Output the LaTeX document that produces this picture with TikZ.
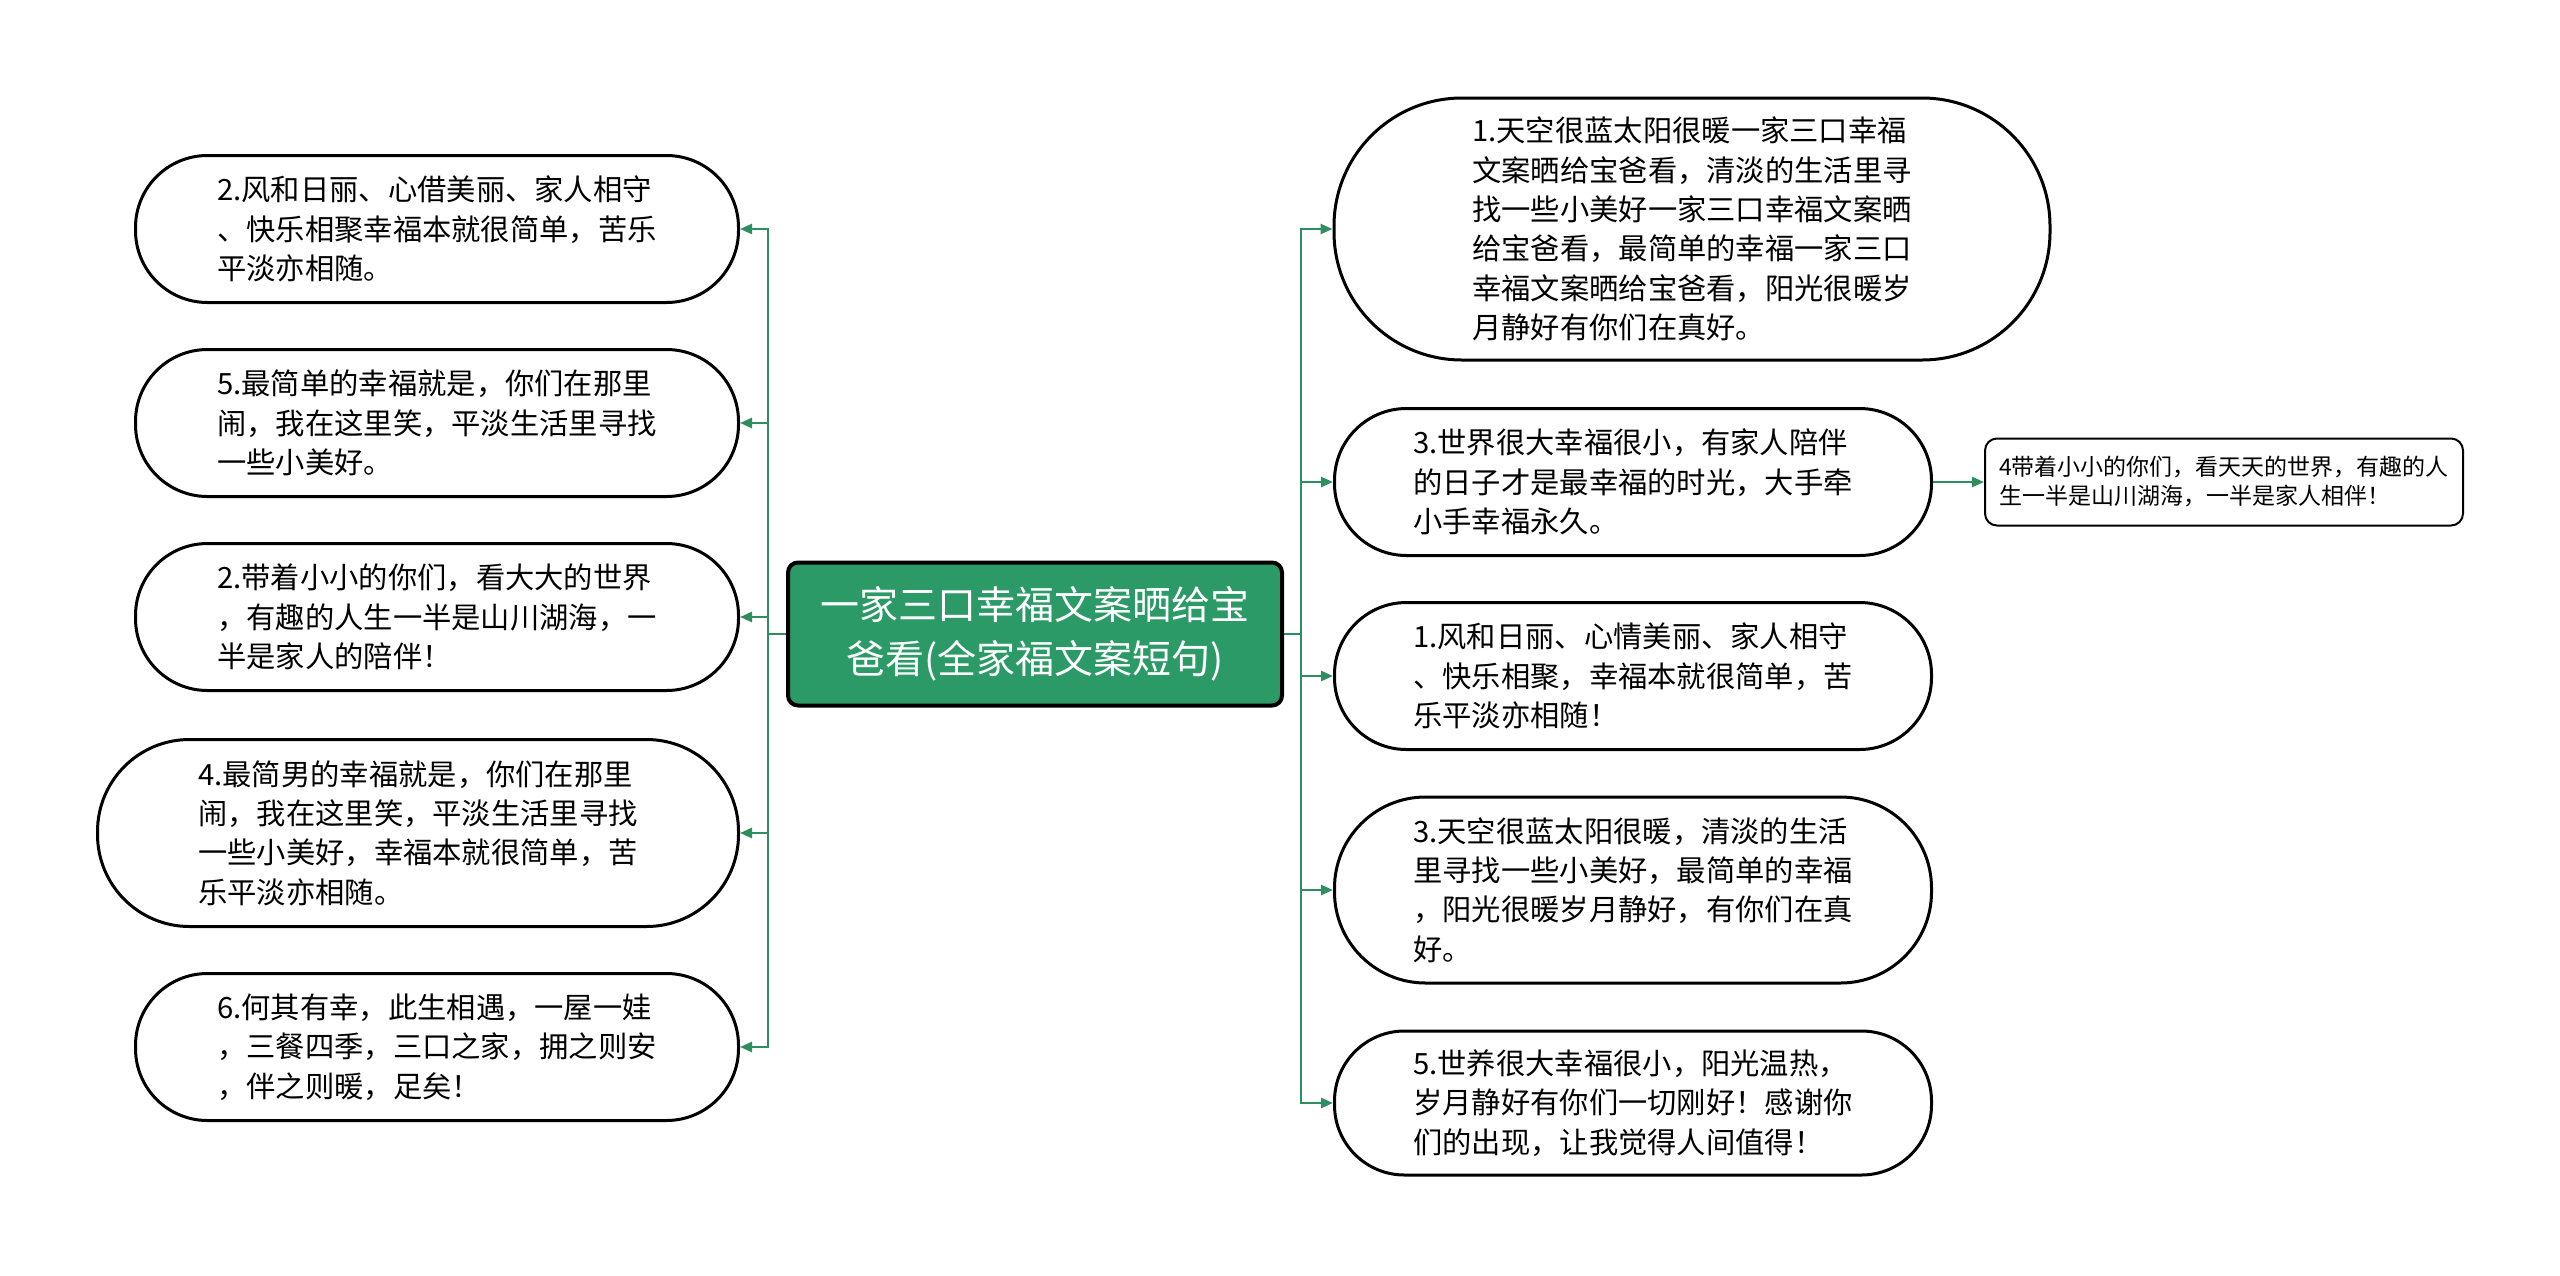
\documentclass[tikz,border=0pt]{standalone}
\usepackage{fontspec}
\setmainfont{Noto Sans CJK SC}
\usetikzlibrary{arrows.meta}
\definecolor{cgreen}{RGB}{43,154,102}
\definecolor{lgreen}{RGB}{46,142,96}
\begin{document}
\begin{tikzpicture}[x=1pt,y=-1pt,
 bub/.style={draw=black,line width=3pt,fill=white,align=left,inner sep=0pt,font=\fontsize{29.3}{39.3}\selectfont},
 smallbox/.style={draw=black,line width=2pt,fill=white,align=left,inner sep=0pt,rounded corners=12pt,font=\fontsize{23}{29}\selectfont},
 conn/.style={draw=lgreen,line width=2.5pt},
 arr/.style={conn,-{Triangle[length=12pt,width=10pt]}},
]
\useasboundingbox[fill=white] (0,0) rectangle (2560,1275);
\node[draw=black, line width=4pt, fill=cgreen, rounded corners=10pt, minimum width=494pt, minimum height=143pt, text=white, align=center, font=\fontsize{39}{54}\selectfont] (c) at (1035,634) {一家三口幸福文案晒给宝\\爸看(全家福文案短句)};

% left children
\node[bub, minimum width=603pt, minimum height=147pt, rounded corners=72pt] (L1) at (437,229) {2.风和日丽、心借美丽、家人相守\\、快乐相聚幸福本就很简单，苦乐\\平淡亦相随。};
\node[bub, minimum width=603pt, minimum height=147pt, rounded corners=72pt] (L2) at (437,423) {5.最简单的幸福就是，你们在那里\\闹，我在这里笑，平淡生活里寻找\\一些小美好。};
\node[bub, minimum width=603pt, minimum height=147pt, rounded corners=72pt] (L3) at (437,617) {2.带着小小的你们，看大大的世界\\，有趣的人生一半是山川湖海，一\\半是家人的陪伴！};
\node[bub, minimum width=641pt, minimum height=187pt, rounded corners=92pt] (L4) at (418,833) {4.最简男的幸福就是，你们在那里\\闹，我在这里笑，平淡生活里寻找\\一些小美好，幸福本就很简单，苦\\乐平淡亦相随。};
\node[bub, minimum width=603pt, minimum height=147pt, rounded corners=72pt] (L5) at (437,1047) {6.何其有幸，此生相遇，一屋一娃\\，三餐四季，三口之家，拥之则安\\，伴之则暖，足矣！};

% right children
\node[bub, minimum width=716pt, minimum height=262pt, rounded corners=128pt] (R1) at (1692,229) {1.天空很蓝太阳很暖一家三口幸福\\文案晒给宝爸看，清淡的生活里寻\\找一些小美好一家三口幸福文案晒\\给宝爸看，最简单的幸福一家三口\\幸福文案晒给宝爸看，阳光很暖岁\\月静好有你们在真好。};
\node[bub, minimum width=597pt, minimum height=147pt, rounded corners=72pt] (R2) at (1633,482) {3.世界很大幸福很小，有家人陪伴\\的日子才是最幸福的时光，大手牵\\小手幸福永久。};
\node[bub, minimum width=597pt, minimum height=147pt, rounded corners=72pt] (R3) at (1633,676) {1.风和日丽、心情美丽、家人相守\\、快乐相聚，幸福本就很简单，苦\\乐平淡亦相随！};
\node[bub, minimum width=597pt, minimum height=186pt, rounded corners=91pt] (R4) at (1633,890) {3.天空很蓝太阳很暖，清淡的生活\\里寻找一些小美好，最简单的幸福\\，阳光很暖岁月静好，有你们在真\\好。};
\node[bub, minimum width=597pt, minimum height=144pt, rounded corners=70pt] (R5) at (1633,1103) {5.世养很大幸福很小，阳光温热，\\岁月静好有你们一切刚好！感谢你\\们的出现，让我觉得人间值得！};
\node[smallbox, minimum width=478pt, minimum height=87pt] (R2c) at (2224,482) {4带着小小的你们，看天天的世界，有趣的人\\生一半是山川湖海，一半是家人相伴！};

% connectors
\coordinate (lt) at (768,634);
\coordinate (rt) at (1301,634);
\draw[conn] (c.west) -- (lt);
\draw[conn] (c.east) -- (rt);
\foreach \n in {L1,L2,L3,L4,L5} { \draw[arr] (lt) |- (\n.east); }
\foreach \n in {R1,R2,R3,R4,R5} { \draw[arr] (rt) |- (\n.west); }
\draw[arr] (R2.east) -- (R2c.west);
\end{tikzpicture}
\end{document}
